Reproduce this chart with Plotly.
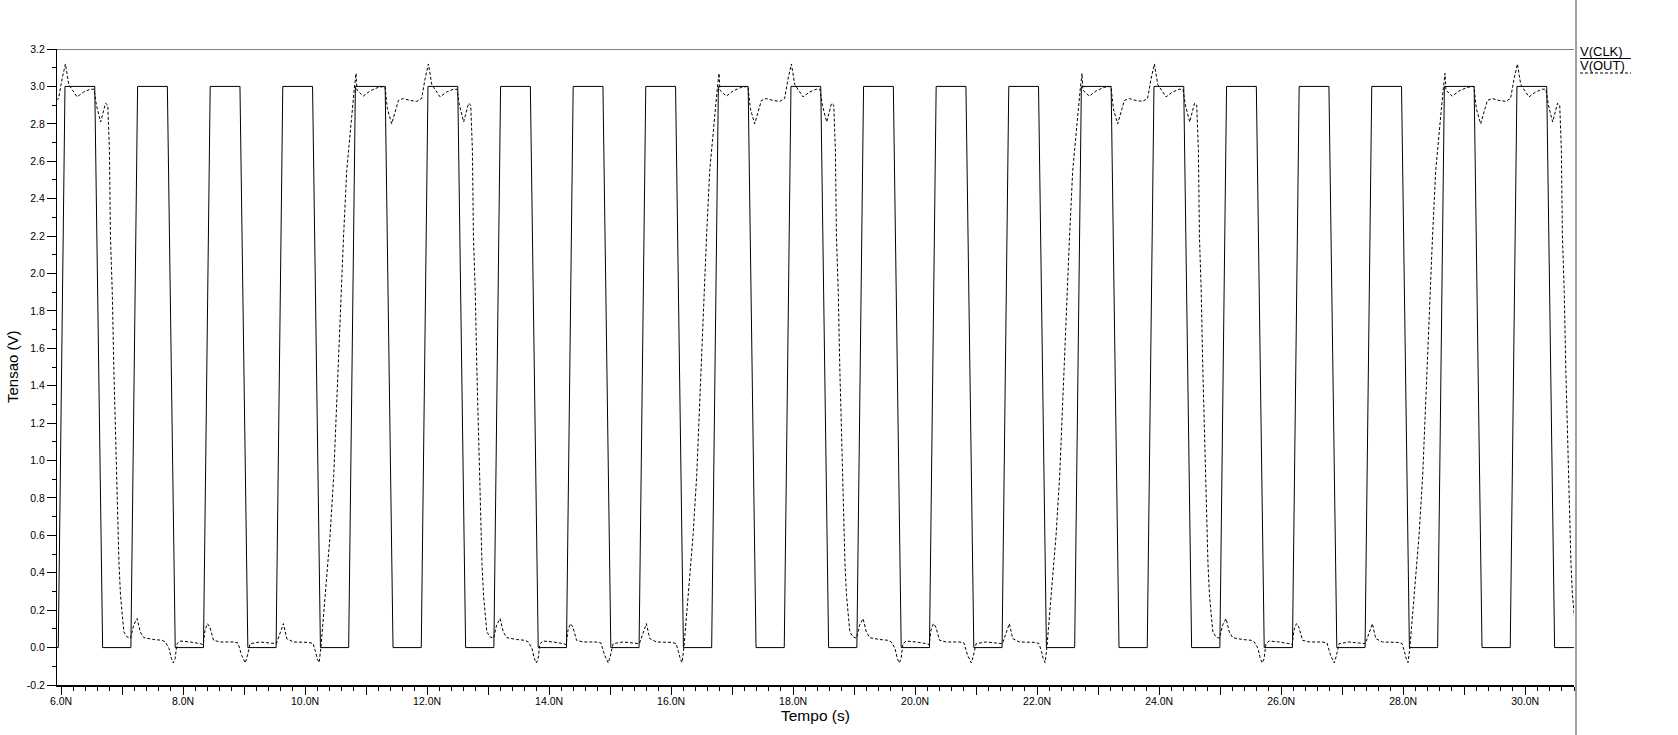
import plotly.graph_objects as go

# ---------------- data ----------------
# clock: start of each rising edge (ns), levels and edge timing (ns)
clk_rise_ns = [5.955, 7.145, 8.335, 9.525, 10.715, 11.905, 13.095, 14.285, 15.475,
               16.665, 17.855, 19.045, 20.235, 21.425, 22.615, 23.805, 24.995,
               26.185, 27.375, 28.565, 29.755]
clk_low_v = 0.0
clk_high_v = 3.0
clk_rise_time = 0.11
clk_high_time = 0.488
clk_fall_time = 0.129

# output: one period of the measured waveform (ns, V)
out_shape_t = [10.05, 10.13, 10.17, 10.20, 10.23, 10.26, 10.33, 10.41, 10.47, 10.52,
               10.575, 10.63, 10.683, 10.72, 10.765, 10.808, 10.836, 10.85, 10.956, 11.066,
               11.20, 11.31, 11.35, 11.42, 11.475, 11.53, 11.61, 11.72, 11.83, 11.91,
               11.967, 12.022, 12.077, 12.213, 12.32, 12.43, 12.49, 12.53, 12.60, 12.68,
               12.716, 12.743, 12.76, 12.79, 12.815, 12.84, 12.87, 12.90, 12.925, 12.95,
               12.98, 13.033, 13.09, 13.14, 13.197, 13.25, 13.306, 13.47, 13.607, 13.66,
               13.72, 13.76, 13.79, 13.82, 13.85, 13.90, 14.07, 14.23, 14.28, 14.31,
               14.35, 14.39, 14.45, 14.56, 14.77, 14.85, 14.91, 14.97, 15.00, 15.05,
               15.21, 15.48, 15.565, 15.595, 15.65, 15.76, 16.00]
out_shape_v = [0.028, 0.022, -0.02, -0.06, -0.08, 0.0, 0.28, 0.60, 0.92, 1.34,
               1.76, 2.19, 2.55, 2.70, 2.84, 2.99, 3.07, 2.98, 2.948, 2.976,
               2.995, 3.0, 2.88, 2.80, 2.87, 2.925, 2.935, 2.925, 2.92, 2.935,
               3.04, 3.12, 3.01, 2.944, 2.97, 2.985, 2.985, 2.90, 2.81, 2.91,
               2.90, 2.66, 2.20, 1.90, 1.50, 1.20, 0.75, 0.45, 0.28, 0.18,
               0.083, 0.057, 0.05, 0.12, 0.155, 0.083, 0.053, 0.043, 0.039, 0.03,
               -0.005, -0.06, -0.082, -0.06, 0.02, 0.035, 0.03, 0.021, 0.016, 0.093,
               0.128, 0.11, 0.039, 0.03, 0.03, 0.025, -0.041, -0.082, -0.05, 0.021,
               0.03, 0.021, 0.11, 0.128, 0.048, 0.03, 0.028]
# time offsets of each repetition of that period (ns)
out_period_offsets = [-5.95, 0.0, 5.95, 11.90, 17.85]

x_tick_vals = [6, 7, 8, 9, 10, 11, 12, 13, 14, 15, 16, 17, 18, 19, 20, 21, 22, 23,
               24, 25, 26, 27, 28, 29, 30]
x_tick_text = ["6.0N", "", "8.0N", "", "10.0N", "", "12.0N", "", "14.0N", "", "16.0N", "",
               "18.0N", "", "20.0N", "", "22.0N", "", "24.0N", "", "26.0N", "", "28.0N", "",
               "30.0N"]
y_tick_vals = [-0.2, 0.0, 0.2, 0.4, 0.6, 0.8, 1.0, 1.2, 1.4, 1.6, 1.8, 2.0, 2.2, 2.4,
               2.6, 2.8, 3.0, 3.2]
y_tick_text = ["-0.2", "0.0", "0.2", "0.4", "0.6", "0.8", "1.0", "1.2", "1.4", "1.6",
               "1.8", "2.0", "2.2", "2.4", "2.6", "2.8", "3.0", "3.2"]

series_names = ["V(CLK)", "V(OUT)"]
x_title = "Tempo (s)"
y_title = "Tensao (V)"

# ---------------- build traces ----------------
clk_t = [5.5]
clk_v = [clk_low_v]
for r in clk_rise_ns:
    clk_t += [r, r + clk_rise_time, r + clk_rise_time + clk_high_time,
              r + clk_rise_time + clk_high_time + clk_fall_time]
    clk_v += [clk_low_v, clk_high_v, clk_high_v, clk_low_v]
clk_t.append(31.5)
clk_v.append(clk_low_v)

out_t, out_v = [], []
for off in out_period_offsets:
    out_t += [t + off for t in out_shape_t[:-1]]
    out_v += out_shape_v[:-1]
out_t.append(out_shape_t[-1] + out_period_offsets[-1])
out_v.append(out_shape_v[-1])

# ---------------- layout geometry (page pixels) ----------------
W, H = 1678, 735
L, R, T, B = 57, 1574, 49, 685


def px_x(x):
    return (x - L) / (R - L)


def px_y(y):
    return (B - y) / (B - T)


FONT = "Liberation Sans, Arial, sans-serif"
DASH = "3px,2px"

fig = go.Figure()
fig.add_trace(go.Scatter(x=clk_t, y=clk_v, mode="lines", name=series_names[0],
                         line=dict(color="black", width=1), showlegend=False,
                         hoverinfo="skip"))
fig.add_trace(go.Scatter(x=out_t, y=out_v, mode="lines", name=series_names[1],
                         line=dict(color="black", width=1, dash=DASH), showlegend=False,
                         hoverinfo="skip"))

fig.update_layout(
    width=W, height=H, autosize=False,
    margin=dict(l=L, r=W - R, t=T, b=H - B, pad=0),
    paper_bgcolor="white", plot_bgcolor="white",
    font=dict(family=FONT, color="black", size=11),
    hovermode=False,
    xaxis=dict(range=[5.934, 30.80], showline=True, linecolor="black", linewidth=2,
               ticks="outside", ticklen=8, tickwidth=1, tickcolor="black",
               tickmode="array", tickvals=x_tick_vals, ticktext=x_tick_text,
               ticklabelstandoff=-3,
               tickfont=dict(family=FONT, size=10.5, color="black"),
               minor=dict(ticks="outside", ticklen=4, tickwidth=1, tickcolor="black",
                          tickmode="linear", tick0=6, dtick=0.2, showgrid=False),
               showgrid=False, zeroline=False, fixedrange=True),
    yaxis=dict(range=[-0.2, 3.2], showline=True, linecolor="black", linewidth=1,
               ticks="outside", ticklen=9, tickwidth=1, tickcolor="black",
               tickmode="array", tickvals=y_tick_vals, ticktext=y_tick_text,
               tickfont=dict(family=FONT, size=10.5, color="black"),
               minor=dict(ticks="outside", ticklen=4, tickwidth=1, tickcolor="black",
                          tickmode="linear", tick0=-0.2, dtick=0.1, showgrid=False),
               showgrid=False, zeroline=False, fixedrange=True),
    shapes=[
        # top border at 3.2
        dict(type="line", xref="paper", yref="y", x0=0, x1=1, y0=3.2, y1=3.2,
             line=dict(color="black", width=1)),
        # gray separator between plot and legend panes
        dict(type="line", xref="paper", yref="paper", x0=px_x(1576), x1=px_x(1576),
             y0=-0.4, y1=1.4, line=dict(color="#a0a0a0", width=2)),
        # legend underlines
        dict(type="line", xref="paper", yref="paper", x0=px_x(1580), x1=px_x(1631),
             y0=px_y(58.5), y1=px_y(58.5), line=dict(color="black", width=1)),
        dict(type="line", xref="paper", yref="paper", x0=px_x(1580), x1=px_x(1631),
             y0=px_y(73), y1=px_y(73), line=dict(color="black", width=1, dash=DASH)),
    ],
    annotations=[
        dict(text=series_names[0], xref="paper", yref="paper", x=px_x(1578), y=px_y(51),
             xanchor="left", yanchor="middle", showarrow=False,
             font=dict(family=FONT, size=13, color="black")),
        dict(text=series_names[1], xref="paper", yref="paper", x=px_x(1578), y=px_y(65.5),
             xanchor="left", yanchor="middle", showarrow=False,
             font=dict(family=FONT, size=13, color="black")),
        dict(text=x_title, xref="paper", yref="paper", x=0.5, y=px_y(715),
             xanchor="center", yanchor="middle", showarrow=False,
             font=dict(family=FONT, size=15.5, color="black")),
        dict(text=y_title, xref="paper", yref="paper", x=px_x(12), y=0.5,
             xanchor="center", yanchor="middle", showarrow=False, textangle=-90,
             font=dict(family=FONT, size=15, color="black")),
    ],
)

fig.write_html(
    "out.html",
    config={"displayModeBar": False, "staticPlot": True},
    post_script="document.body.style.margin='0';document.body.style.padding='0';",
)
